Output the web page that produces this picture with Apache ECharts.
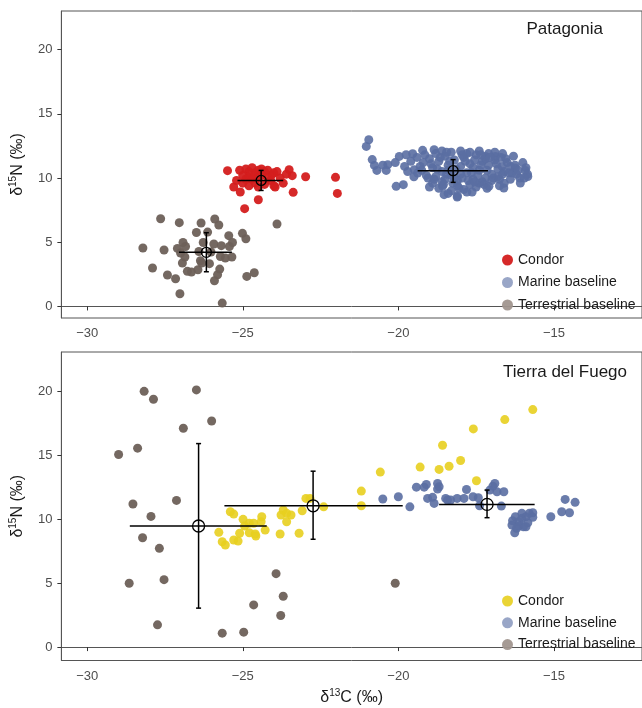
<!DOCTYPE html>
<html>
<head>
<meta charset="utf-8">
<script src="https://cdn.jsdelivr.net/npm/echarts@6/dist/echarts.min.js"></script>
<style>
  html, body { margin: 0; padding: 0; background: #fff; }
  #chart { width: 642px; height: 708px; }
</style>
</head>
<body>
<div id="chart"></div>
<script>
// δ13C / δ15N values

// ---- Patagonia ----
var patTerrestrial = [
  [-27.64, 6.83], [-27.04, 6.52], [-26.34, 6.50], [-25.90, 6.81], [-25.77, 6.34], [-23.90, 6.42],
  [-26.49, 5.76], [-26.13, 5.79], [-25.45, 5.51], [-25.01, 5.69], [-24.90, 5.27], [-25.33, 4.98],
  [-28.21, 4.55], [-27.53, 4.39], [-27.10, 4.52], [-26.92, 4.98], [-26.84, 4.67], [-26.27, 4.98],
  [-25.93, 4.86], [-25.69, 4.73], [-25.43, 4.67], [-26.41, 4.28], [-26.02, 4.24], [-25.72, 3.89],
  [-25.56, 3.77], [-25.35, 3.85], [-26.86, 3.85], [-26.94, 3.38], [-26.36, 3.56], [-26.07, 3.33],
  [-27.90, 2.99], [-27.42, 2.45], [-27.16, 2.16], [-26.78, 2.73], [-26.65, 2.68], [-26.44, 2.86],
  [-25.74, 2.91], [-25.81, 2.47], [-25.91, 2.00], [-24.87, 2.34], [-24.63, 2.62], [-27.02, 0.99],
  [-25.66, 0.26], [-26.32, 3.38], [-27.00, 4.16]
];
var patCondor = [
  [-25.49, 10.57], [-25.29, 9.30], [-25.08, 8.91], [-24.94, 7.61], [-24.50, 8.31], [-23.51, 10.65],
  [-23.41, 10.18], [-22.98, 10.10], [-23.38, 8.88], [-22.02, 10.05], [-21.96, 8.80], [-23.96, 9.30],
  [-24.07, 10.26], [-25.1, 10.6], [-24.9, 10.7], [-24.8, 10.5], [-24.7, 10.8], [-24.6, 10.4],
  [-24.5, 10.6], [-24.4, 10.7], [-24.3, 10.5], [-24.2, 10.6], [-24.0, 10.4], [-23.9, 10.5],
  [-25.0, 10.2], [-24.8, 10.1], [-24.7, 9.9], [-24.6, 10.2], [-24.5, 10.0], [-24.4, 10.2],
  [-24.2, 10.0], [-24.1, 9.8], [-23.8, 10.0], [-25.2, 9.8], [-25.0, 9.6], [-24.8, 9.4],
  [-24.6, 9.6], [-24.3, 9.5], [-24.0, 9.4], [-23.7, 9.6], [-24.9, 9.9], [-24.5, 9.3], [-23.6, 10.3]
];
var patMarine = [
  [-20.95, 12.98], [-21.03, 12.46], [-20.84, 11.43], [-20.77, 10.98], [-20.69, 10.59], [-20.34, 11.04],
  [-20.39, 10.59], [-20.07, 9.35], [-19.84, 9.48], [-19.97, 11.68], [-19.75, 11.81], [-19.54, 11.89],
  [-19.22, 12.15], [-18.85, 12.20], [-18.11, 8.52], [-17.63, 8.91], [-17.20, 11.68], [-16.88, 11.68],
  [-16.67, 10.90], [-16.24, 10.78], [-15.92, 10.59], [-15.84, 10.12], [-16.08, 9.61], [-16.35, 10.39],
  [-16.61, 9.22], [-17.09, 9.35], [-18.53, 8.70], [-18.58, 9.35], [-19.38, 10.39], [-19.49, 10.65],
  [-19.2, 11.2], [-19.0, 11.5], [-18.9, 10.8], [-18.8, 11.9], [-18.7, 11.3], [-18.6, 10.5],
  [-18.5, 11.7], [-18.4, 11.0], [-18.3, 10.2], [-18.2, 11.4], [-18.1, 9.8], [-18.0, 10.9],
  [-17.9, 11.6], [-17.8, 10.4], [-17.7, 11.1], [-17.6, 9.9], [-17.5, 11.8], [-17.4, 10.6],
  [-17.3, 11.3], [-17.2, 10.0], [-17.1, 11.0], [-17.0, 10.3], [-16.9, 11.4], [-16.8, 10.1],
  [-16.7, 11.6], [-16.6, 10.5], [-16.5, 11.2], [-16.4, 9.9], [-18.9, 9.6], [-18.7, 9.2],
  [-18.5, 9.9], [-18.3, 9.0], [-18.1, 9.4], [-17.9, 9.1], [-17.7, 9.5], [-17.5, 9.3],
  [-17.3, 9.7], [-19.1, 10.2], [-19.3, 10.9], [-18.8, 10.1], [-18.6, 9.7], [-18.4, 10.6],
  [-18.2, 10.0], [-18.0, 10.3], [-17.8, 11.9], [-17.6, 10.8], [-17.4, 9.6], [-17.2, 11.5],
  [-17.0, 9.8], [-16.8, 10.7], [-16.6, 9.6], [-16.4, 10.9], [-16.2, 10.3], [-16.0, 11.2],
  [-16.1, 10.0], [-19.6, 11.3], [-19.4, 11.6], [-19.8, 10.9], [-20.1, 11.2], [-20.5, 11.0],
  [-18.6, 12.1], [-18.3, 12.0], [-18.0, 12.1], [-17.7, 12.0], [-17.4, 12.1], [-17.1, 11.9],
  [-16.9, 12.0], [-18.1, 8.6], [-17.8, 8.9], [-18.4, 8.8], [-19.0, 9.3], [-19.5, 10.1],
  [-16.3, 11.7], [-15.9, 10.8], [-15.85, 10.3],
  [-19.25, 10.6], [-19.05, 10.0], [-18.95, 11.1], [-18.75, 10.7], [-18.65, 11.6], [-18.45, 10.3],
  [-18.35, 11.3], [-18.25, 9.6], [-18.15, 10.7], [-17.95, 10.0], [-17.85, 11.3], [-17.75, 9.8],
  [-17.65, 10.4], [-17.55, 11.4], [-17.45, 10.2], [-17.35, 11.0], [-17.25, 9.5], [-17.15, 10.6],
  [-17.05, 11.6], [-16.95, 10.0], [-16.85, 11.1], [-16.75, 9.9], [-16.65, 10.3], [-16.55, 11.5],
  [-16.45, 10.4], [-16.25, 11.0], [-16.15, 10.6], [-15.95, 10.0], [-18.85, 9.9], [-18.55, 9.5],
  [-18.05, 9.2], [-17.55, 9.7], [-17.15, 9.2], [-16.75, 9.4], [-19.15, 11.8], [-18.45, 12.0],
  [-17.95, 11.8], [-17.35, 11.8], [-16.65, 11.9], [-19.7, 10.5]
];
// mean x, mean y, x low, x high, y low, y high  (terrestrial, condor, marine)
var patMeans = [
  [-26.17, 4.21, -27.05, -25.35, 2.70, 5.74],
  [-24.41, 9.81, -25.17, -23.70, 9.03, 10.59],
  [-18.24, 10.57, -19.38, -17.12, 9.66, 11.43]
];

// ---- Tierra del Fuego ----
var tdfTerrestrial = [
  [-28.17, 20.02], [-27.87, 19.40], [-26.49, 20.13], [-26.91, 17.13], [-26.00, 17.70], [-28.99, 15.08],
  [-28.38, 15.57], [-28.53, 11.20], [-27.13, 11.48], [-27.95, 10.23], [-28.22, 8.56], [-27.68, 7.73],
  [-28.65, 5.00], [-27.53, 5.28], [-27.74, 1.74], [-25.66, 1.09], [-24.97, 1.17], [-24.65, 3.30],
  [-23.93, 5.75], [-23.70, 3.98], [-23.78, 2.47], [-20.10, 5.00]
];
var tdfCondor = [
  [-25.77, 8.98], [-25.66, 8.25], [-25.56, 7.99], [-25.40, 10.59], [-25.29, 10.41], [-25.29, 8.38],
  [-25.15, 8.30], [-25.10, 8.91], [-24.99, 10.00], [-24.94, 9.48], [-24.79, 9.69], [-24.65, 9.69],
  [-24.79, 8.95], [-24.60, 8.85], [-24.58, 8.70], [-24.39, 10.20], [-24.41, 9.81], [-24.28, 9.16],
  [-23.80, 8.85], [-23.77, 10.34], [-23.70, 10.73], [-23.59, 10.47], [-23.45, 10.34], [-23.59, 9.81],
  [-23.19, 8.91], [-23.09, 10.67], [-22.97, 11.64], [-22.84, 11.64], [-22.40, 10.98], [-21.19, 12.21],
  [-21.19, 11.06], [-20.58, 13.70], [-19.30, 14.09], [-18.69, 13.91], [-18.58, 15.80], [-18.37, 14.16],
  [-18.00, 14.61], [-17.59, 17.08], [-16.58, 17.81], [-15.68, 18.59], [-17.49, 13.02]
];
var tdfMarine = [
  [-20.50, 11.59], [-20.00, 11.77], [-19.63, 10.98], [-19.42, 12.52], [-19.17, 12.52], [-19.10, 12.73],
  [-18.74, 12.81], [-18.74, 12.37], [-19.06, 11.64], [-18.90, 11.72], [-18.85, 11.25], [-18.42, 11.51],
  [-18.69, 12.55], [-18.48, 11.64], [-18.32, 11.51], [-18.11, 11.64], [-17.89, 11.64], [-17.81, 12.34],
  [-17.60, 11.77], [-17.43, 11.69], [-17.39, 11.06], [-17.06, 12.29], [-16.96, 12.60], [-16.90, 12.81],
  [-16.83, 12.16], [-16.61, 12.16], [-16.69, 11.04], [-16.33, 9.89], [-16.24, 10.20], [-16.13, 9.81],
  [-16.03, 10.08], [-15.90, 10.20], [-15.79, 10.47], [-15.68, 10.52], [-15.84, 9.73], [-15.98, 9.42],
  [-16.26, 8.95], [-16.35, 9.55], [-16.13, 9.48], [-15.68, 10.16], [-15.10, 10.20], [-14.75, 10.59],
  [-14.50, 10.52], [-14.64, 11.56], [-14.32, 11.33], [-16.03, 10.47], [-15.90, 9.42], [-16.20, 9.30]
];
var tdfMeans = [
  [-26.42, 9.48, -28.63, -24.23, 3.05, 15.93],
  [-22.74, 11.06, -25.59, -19.86, 8.44, 13.77],
  [-17.15, 11.17, -18.69, -15.62, 10.13, 12.29]
];

var xTicks = [-30, -25, -20, -15];
var yTicks = [0, 5, 10, 15, 20];
var legendNames = ['Condor', 'Marine baseline', 'Terrestrial baseline'];

var chart = echarts.init(document.getElementById('chart'));

var font = 'Liberation Sans, Arial, sans-serif';
var textColor = '#4d4d4d';
var frameColor = '#555';
var minus = function (v) { return String(v).replace('-', '\u2212'); };

var nameRich = {
  d: { fontSize: 16, color: '#1a1a1a', fontFamily: font, lineHeight: 18 },
  sup: { fontSize: 10, color: '#1a1a1a', fontFamily: font, lineHeight: 18, padding: [0, 0, 9, 0] }
};

function xAxisFor(idx, withName) {
  var ax = {
    type: 'value', gridIndex: idx, min: -30.83, max: -12.17,
    splitLine: { show: false },
    axisLine: { show: true, lineStyle: { color: frameColor } },
    axisTick: { show: true, length: 4, customValues: xTicks, lineStyle: { color: '#333' } },
    axisLabel: { customValues: xTicks, formatter: minus, color: textColor, fontSize: 13, margin: 9, fontFamily: font }
  };
  if (withName) {
    ax.name = '{d|δ}{sup|13}{d|C (‰)}';
    ax.nameLocation = 'middle';
    ax.nameGap = 28;
    ax.nameTextStyle = { rich: nameRich };
  }
  return ax;
}

function yAxisFor(idx, min, max) {
  return {
    type: 'value', gridIndex: idx, min: min, max: max,
    splitLine: { show: false },
    axisLine: { show: true, lineStyle: { color: frameColor } },
    axisTick: { show: true, length: 4, customValues: yTicks, lineStyle: { color: '#333' } },
    axisLabel: { customValues: yTicks, color: textColor, fontSize: 13, margin: 9, fontFamily: font },
    name: '{d|δ}{sup|15}{d|N (‰)}',
    nameLocation: 'middle',
    nameGap: 32,
    nameTextStyle: { rich: nameRich }
  };
}

function pointSeries(name, idx, data, color, opacity) {
  return {
    type: 'scatter', name: name, xAxisIndex: idx, yAxisIndex: idx,
    data: data, symbolSize: 9, silent: true,
    itemStyle: { color: color, opacity: opacity }
  };
}

function errorSeries(idx, data, radius) {
  return {
    type: 'custom', xAxisIndex: idx, yAxisIndex: idx, silent: true, z: 5,
    data: data,
    encode: { x: 0, y: 1 },
    renderItem: function (params, api) {
      var c = api.coord([api.value(0), api.value(1)]);
      var xl = api.coord([api.value(2), api.value(1)]);
      var xh = api.coord([api.value(3), api.value(1)]);
      var yl = api.coord([api.value(0), api.value(4)]);
      var yh = api.coord([api.value(0), api.value(5)]);
      var st = { stroke: '#000', lineWidth: 1.5 };
      var cap = 2.5;
      return {
        type: 'group',
        children: [
          { type: 'line', shape: { x1: xl[0], y1: c[1], x2: xh[0], y2: c[1] }, style: st },
          { type: 'line', shape: { x1: c[0], y1: yl[1], x2: c[0], y2: yh[1] }, style: st },
          { type: 'line', shape: { x1: c[0] - cap, y1: yl[1], x2: c[0] + cap, y2: yl[1] }, style: st },
          { type: 'line', shape: { x1: c[0] - cap, y1: yh[1], x2: c[0] + cap, y2: yh[1] }, style: st },
          { type: 'circle', shape: { cx: c[0], cy: c[1], r: radius }, style: { stroke: '#000', fill: 'none', lineWidth: 1.3 } }
        ]
      };
    }
  };
}

var legendText = { fontSize: 14, color: '#1a1a1a', fontFamily: font };

var option = {
  animation: false,
  backgroundColor: '#fff',
  title: [
    { text: 'Patagonia', right: 34, top: 16, textStyle: { fontSize: 17, fontWeight: 'normal', color: '#1a1a1a', fontFamily: font } },
    { text: 'Tierra del Fuego', right: 10, top: 359, textStyle: { fontSize: 17, fontWeight: 'normal', color: '#1a1a1a', fontFamily: font } }
  ],
  legend: [
    {
      orient: 'vertical', left: 497, top: 248, itemWidth: 11, itemHeight: 11, itemGap: 8.5,
      icon: 'circle', textStyle: legendText, selectedMode: false,
      formatter: function (n) { return n.split('|')[1]; },
      data: [
        { name: 'P|' + legendNames[0], itemStyle: { color: '#d41e1e' } },
        { name: 'P|' + legendNames[1], itemStyle: { color: '#8e9cc1' } },
        { name: 'P|' + legendNames[2], itemStyle: { color: '#a1968f' } }
      ]
    },
    {
      orient: 'vertical', left: 497, top: 589, itemWidth: 11, itemHeight: 11, itemGap: 7.8,
      icon: 'circle', textStyle: legendText, selectedMode: false,
      formatter: function (n) { return n.split('|')[1]; },
      data: [
        { name: 'T|' + legendNames[0], itemStyle: { color: '#e8cf1f' } },
        { name: 'T|' + legendNames[1], itemStyle: { color: '#8e9cc1' } },
        { name: 'T|' + legendNames[2], itemStyle: { color: '#a1968f' } }
      ]
    }
  ],
  grid: [
    { left: 60, top: 11, right: -2, height: 307, show: true, borderColor: frameColor, borderWidth: 1, backgroundColor: '#fff' },
    { left: 60, top: 352, right: -2, height: 309, show: true, borderColor: frameColor, borderWidth: 1, backgroundColor: '#fff' }
  ],
  xAxis: [xAxisFor(0, false), xAxisFor(1, true)],
  yAxis: [yAxisFor(0, -0.9, 23.0), yAxisFor(1, -1.05, 23.1)],
  series: [
    pointSeries('P|Terrestrial baseline', 0, patTerrestrial, '#6d6058', 0.95),
    pointSeries('P|Marine baseline', 0, patMarine, '#5a6ea2', 0.9),
    pointSeries('P|Condor', 0, patCondor, '#d41e1e', 0.95),
    errorSeries(0, patMeans, 5),
    pointSeries('T|Terrestrial baseline', 1, tdfTerrestrial, '#6d6058', 0.95),
    pointSeries('T|Marine baseline', 1, tdfMarine, '#5a6ea2', 0.9),
    pointSeries('T|Condor', 1, tdfCondor, '#e8cf1f', 0.9),
    errorSeries(1, tdfMeans, 6)
  ]
};

chart.setOption(option);
</script>
</body>
</html>
